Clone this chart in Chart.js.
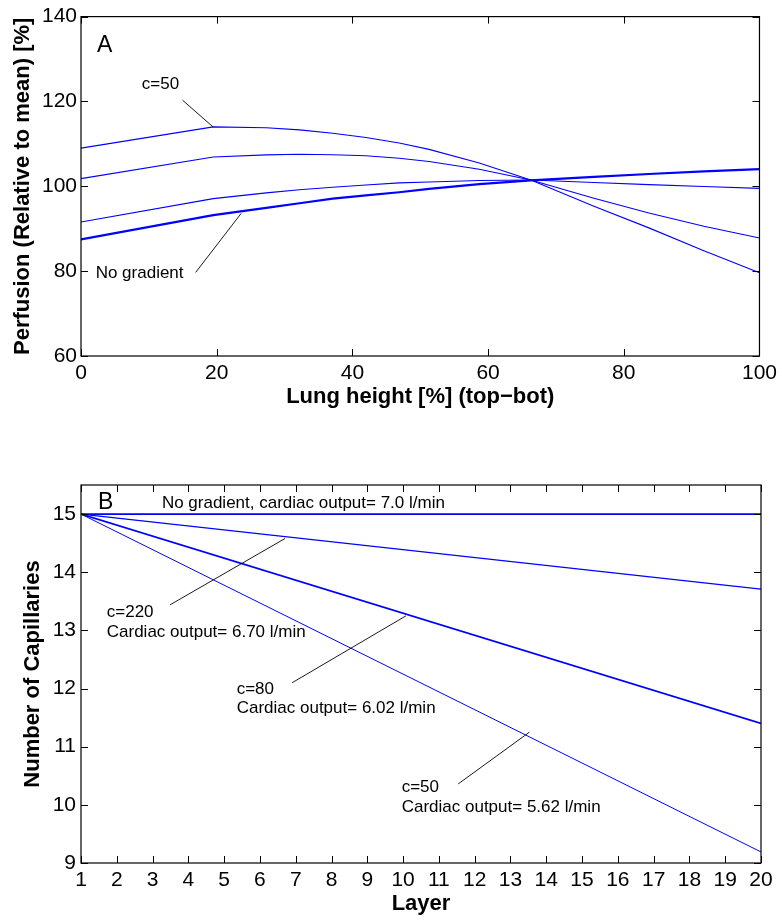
<!DOCTYPE html>
<html>
<head>
<meta charset="utf-8">
<script src="https://cdn.jsdelivr.net/npm/chart.js@4.4.0/dist/chart.umd.min.js"></script>
<style>
body{margin:0;background:#fff;}
</style>
</head>
<body>
<canvas id="graficaA" width="782" height="420"></canvas>
<canvas id="graficaB" width="782" height="500"></canvas>
<script>
//------------------ Datos figura A (perfusion) ------------------
var alturaPulmon = [0, 19.5, 27.3, 32.2, 37.1, 42, 46.9, 51.3, 58.7, 66.3, 75.6, 83.7, 91.8, 100];
var perfC50      = [109.0, 114.0, 113.8, 113.3, 112.5, 111.5, 110.2, 108.7, 105.5, 101.5, 95.3, 90.2, 84.8, 79.6];
var perfC80      = [101.8, 106.9, 107.4, 107.55, 107.45, 107.2, 106.6, 105.85, 104.0, 101.5, 97.2, 93.7, 90.6, 87.8];
var perfC220     = [91.6, 97.1, 98.45, 99.2, 99.77, 100.3, 100.8, 101.0, 101.35, 101.5, 100.9, 100.4, 99.95, 99.5];
var perfSinGrad  = [87.5, 93.2, 94.9, 96.0, 97.1, 97.85, 98.6, 99.4, 100.5, 101.4, 102.2, 102.9, 103.5, 104.05];

//------------------ Datos figura B (capilares) ------------------
var capas        = [1, 20];
var capSinGrad   = [15, 15];
var capC220      = [15, 13.71];
var capC80       = [15, 11.40];
var capC50       = [15, 9.19];

// textos y lineas guia (en unidades de los ejes)
var textosA = [
    {t: "A", x: 2.35, y: 133.2, grande: true},
    {t: "c=50", x: 8.97, y: 124.1},
    {t: "No gradient", x: 2.16, y: 79.6}
];
var lineasA = [
    [14.96, 120.3, 19.46, 114.0],
    [16.9, 79.7, 23.6, 93.6]
];
var textosB = [
    {t: "B", x: 1.475, y: 15.19, grande: true},
    {t: "No gradient, cardiac output= 7.0 l/min", x: 3.26, y: 15.19},
    {t: "c=220", x: 1.72, y: 13.31},
    {t: "Cardiac output= 6.70 l/min", x: 1.72, y: 12.96},
    {t: "c=80", x: 5.35, y: 11.99},
    {t: "Cardiac output= 6.02 l/min", x: 5.35, y: 11.66},
    {t: "c=50", x: 9.96, y: 10.30},
    {t: "Cardiac output= 5.62 l/min", x: 9.96, y: 9.96}
];
var lineasB = [
    [3.49, 13.44, 6.70, 14.58],
    [6.90, 12.10, 10.08, 13.25],
    [11.54, 10.36, 13.53, 11.25]
];

var fuente = "'Liberation Sans', Arial, Helvetica, sans-serif";
Chart.defaults.color = "#000";
Chart.defaults.font.family = fuente;

function puntos(xs, ys)
{
    return xs.map(function(x, i){ return {x: x, y: ys[i]}; });
}

function serie(xs, ys, ancho)
{
    return {
        data: puntos(xs, ys),
        borderColor: "#0000ff",
        borderWidth: ancho,
        pointRadius: 0,
        tension: 0,
        fill: false
    };
}

// marco completo y marcas hacia adentro, como en matlab
var marco = {
    id: "marco",
    afterDraw: function(chart)
    {
        var ctx = chart.ctx;
        var a = chart.chartArea;
        var sx = chart.scales.x;
        var sy = chart.scales.y;
        var L = 7;
        ctx.save();
        ctx.strokeStyle = "#000";
        ctx.lineWidth = 1.2;
        ctx.strokeRect(a.left, a.top, a.right - a.left, a.bottom - a.top);
        ctx.lineWidth = 1;
        ctx.beginPath();
        sx.ticks.forEach(function(t){
            var px = Math.round(sx.getPixelForValue(t.value)) + 0.5;
            ctx.moveTo(px, a.bottom); ctx.lineTo(px, a.bottom - L);
            ctx.moveTo(px, a.top); ctx.lineTo(px, a.top + L);
        });
        sy.ticks.forEach(function(t){
            var py = Math.round(sy.getPixelForValue(t.value)) + 0.5;
            ctx.moveTo(a.left, py); ctx.lineTo(a.left + L, py);
            ctx.moveTo(a.right, py); ctx.lineTo(a.right - L, py);
        });
        ctx.stroke();
        ctx.restore();
    }
};

function notas(textos, lineas)
{
    return {
        id: "notas",
        afterDatasetsDraw: function(chart)
        {
            var ctx = chart.ctx;
            var sx = chart.scales.x;
            var sy = chart.scales.y;
            ctx.save();
            ctx.strokeStyle = "#000";
            ctx.lineWidth = 0.9;
            lineas.forEach(function(l){
                ctx.beginPath();
                ctx.moveTo(sx.getPixelForValue(l[0]), sy.getPixelForValue(l[1]));
                ctx.lineTo(sx.getPixelForValue(l[2]), sy.getPixelForValue(l[3]));
                ctx.stroke();
            });
            ctx.fillStyle = "#000";
            ctx.textAlign = "left";
            ctx.textBaseline = "middle";
            textos.forEach(function(t){
                ctx.font = (t.grande ? "23px " : "17px ") + fuente;
                ctx.fillText(t.t, sx.getPixelForValue(t.x), sy.getPixelForValue(t.y));
            });
            ctx.restore();
        }
    };
}

function ejes(xMin, xMax, xPaso, yMin, yMax, yPaso, xTitulo, yTitulo, altoX, padTitY, padTitX, padTickY)
{
    return {
        x: {
            type: "linear",
            min: xMin, max: xMax,
            grid: {display: false, drawTicks: false},
            border: {display: false},
            ticks: {stepSize: xPaso, autoSkip: false, maxRotation: 0, includeBounds: false, padding: 5, font: {size: 21}},
            title: {display: true, text: xTitulo, font: {size: 22, weight: "bold"}, padding: {top: 0, bottom: padTitX}},
            afterFit: function(s){ s.height = altoX; }
        },
        y: {
            type: "linear",
            min: yMin, max: yMax,
            grid: {display: false, drawTicks: false},
            border: {display: false},
            ticks: {stepSize: yPaso, includeBounds: false, padding: padTickY, font: {size: 21}},
            title: {display: true, text: yTitulo, font: {size: 22, weight: "bold"}, padding: {top: padTitY, bottom: 0}},
            afterFit: function(s){ s.width = 81; }
        }
    };
}

dibujar();
function dibujar()
{
    var cA = document.getElementById("graficaA");
    cA.style.position = "absolute"; cA.style.left = "0px"; cA.style.top = "0px";
    new Chart(cA, {
        type: "line",
        data: {
            datasets: [
                serie(alturaPulmon, perfC50, 1.1),
                serie(alturaPulmon, perfC80, 1.1),
                serie(alturaPulmon, perfC220, 1.1),
                serie(alturaPulmon, perfSinGrad, 2.2)
            ]
        },
        options: {
            responsive: false,
            animation: false,
            layout: {padding: {top: 14, right: 21, left: 0, bottom: 0}},
            plugins: {legend: {display: false}, tooltip: {enabled: false}},
            scales: ejes(0, 100, 20, 60, 140, 20, "Lung height [%] (top\u2212bot)", "Perfusion (Relative to mean) [%]", 64, 10, 10, 4)
        },
        plugins: [marco, notas(textosA, lineasA)]
    });

    var cB = document.getElementById("graficaB");
    cB.style.position = "absolute"; cB.style.left = "0px"; cB.style.top = "420px";
    new Chart(cB, {
        type: "line",
        data: {
            datasets: [
                serie(capas, capSinGrad, 1.6),
                serie(capas, capC220, 1.1),
                serie(capas, capC80, 1.6),
                serie(capas, capC50, 1.0)
            ]
        },
        options: {
            responsive: false,
            animation: false,
            layout: {padding: {top: 65, right: 21, left: 0, bottom: 0}},
            plugins: {legend: {display: false}, tooltip: {enabled: false}},
            scales: ejes(1, 20, 1, 9, 15.5, 1, "Layer", "Number of Capillaries", 57, 20, 3, 5)
        },
        plugins: [marco, notas(textosB, lineasB)]
    });
}
</script>
</body>
</html>
